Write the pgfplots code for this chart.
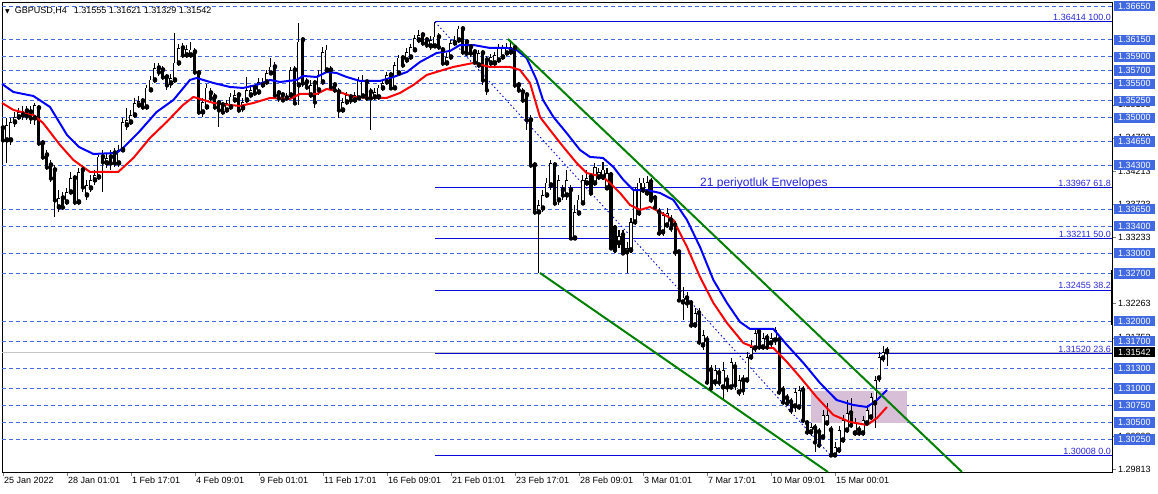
\documentclass[border=0pt]{standalone}
\usepackage{pgfplots}
\pgfplotsset{compat=1.18}
\usepackage{pgfplotstable}
\usepackage{fontspec}
\setmainfont{Liberation Sans}
\newfontfamily\dejavu{DejaVu Sans}

\definecolor{royal}{RGB}{65,105,225}
\definecolor{fibblue}{RGB}{10,10,215}
\definecolor{fibtext}{RGB}{40,40,220}
\definecolor{mtgreen}{RGB}{0,128,0}
\definecolor{boxpink}{RGB}{216,191,216}

% GBPUSD H4 candles: bar index, open, high, low, close
\pgfplotstableread{
i o h l c
0 1.34849 1.34967 1.34524 1.34672
1 1.34672 1.34996 1.34332 1.34893
2 1.34672 1.34996 1.34598 1.34937
3 1.34937 1.35085 1.34864 1.35011
4 1.35011 1.35144 1.34967 1.35085
5 1.35041 1.35174 1.34967 1.35100
6 1.35100 1.35174 1.34967 1.35026
7 1.35085 1.35174 1.34908 1.34996
8 1.34996 1.35218 1.34893 1.35188
9 1.35144 1.35188 1.34583 1.34627
10 1.34627 1.34672 1.34376 1.34421
11 1.34450 1.34524 1.34229 1.34273
12 1.34302 1.34376 1.34051 1.34110
13 1.34229 1.34302 1.33534 1.33786
14 1.33682 1.33933 1.33608 1.33815
15 1.33815 1.33904 1.33638 1.33682
16 1.33756 1.33963 1.33712 1.33904
17 1.33904 1.34199 1.33859 1.34110
18 1.34110 1.34155 1.33712 1.33756
19 1.33756 1.34258 1.33712 1.34199
20 1.34229 1.34302 1.33904 1.33978
21 1.33859 1.34081 1.33786 1.34007
22 1.33963 1.34155 1.33904 1.34081
23 1.34081 1.34229 1.34007 1.34155
24 1.34125 1.34450 1.34081 1.34421
25 1.34421 1.34524 1.33904 1.34347
26 1.34332 1.34480 1.34258 1.34406
27 1.34421 1.34524 1.34229 1.34332
28 1.34480 1.34554 1.34273 1.34332
29 1.34332 1.34598 1.34273 1.34524
30 1.34524 1.34996 1.34494 1.34937
31 1.34893 1.35144 1.34819 1.34967
32 1.34937 1.35115 1.34893 1.35041
33 1.35041 1.35292 1.34996 1.35218
34 1.35188 1.35321 1.35144 1.35247
35 1.35247 1.35292 1.35115 1.35159
36 1.35159 1.35484 1.35115 1.35440
37 1.35410 1.35617 1.35380 1.35558
38 1.35558 1.35809 1.35513 1.35735
39 1.35735 1.35809 1.35617 1.35676
40 1.35705 1.35764 1.35558 1.35602
41 1.35602 1.35646 1.35410 1.35484
42 1.35513 1.35646 1.35440 1.35587
43 1.35558 1.36252 1.35513 1.35809
44 1.35809 1.36089 1.35764 1.36030
45 1.36030 1.36104 1.35883 1.35927
46 1.35927 1.36075 1.35883 1.36015
47 1.35927 1.36119 1.35883 1.36001
48 1.35971 1.36030 1.35631 1.35676
49 1.35661 1.35705 1.35041 1.35085
50 1.35085 1.35292 1.35011 1.35233
51 1.35159 1.35499 1.35115 1.35440
52 1.35366 1.35440 1.35218 1.35292
53 1.35307 1.35366 1.35115 1.35159
54 1.35218 1.35262 1.34864 1.35115
55 1.35188 1.35233 1.35041 1.35085
56 1.35115 1.35262 1.35070 1.35218
57 1.35159 1.35366 1.35115 1.35307
58 1.35262 1.35410 1.35218 1.35336
59 1.35336 1.35380 1.35070 1.35115
60 1.35144 1.35292 1.35085 1.35233
61 1.35262 1.35602 1.35218 1.35410
62 1.35336 1.35484 1.35292 1.35410
63 1.35440 1.35484 1.35321 1.35366
64 1.35380 1.35587 1.35336 1.35528
65 1.35484 1.35587 1.35440 1.35528
66 1.35528 1.35705 1.35484 1.35661
67 1.35661 1.35883 1.35631 1.35750
68 1.35750 1.35823 1.35307 1.35336
69 1.35366 1.35410 1.35233 1.35292
70 1.35336 1.35380 1.35233 1.35262
71 1.35292 1.35366 1.35247 1.35321
72 1.35336 1.35750 1.35292 1.35705
73 1.35705 1.35764 1.35188 1.35218
74 1.35484 1.36399 1.35188 1.36119
75 1.36148 1.36193 1.35454 1.35513
76 1.35528 1.35587 1.35410 1.35454
77 1.35336 1.35558 1.35292 1.35484
78 1.35513 1.35558 1.35144 1.35233
79 1.35410 1.35705 1.35336 1.35631
80 1.35528 1.36045 1.35484 1.35971
81 1.35705 1.36075 1.35661 1.36001
82 1.35705 1.35764 1.35410 1.35454
83 1.35484 1.35528 1.35366 1.35410
84 1.35380 1.35440 1.34996 1.35115
85 1.35115 1.35292 1.35070 1.35233
86 1.35233 1.35380 1.35188 1.35336
87 1.35307 1.35351 1.35203 1.35262
88 1.35262 1.35380 1.35218 1.35336
89 1.35292 1.35602 1.35262 1.35558
90 1.35321 1.35631 1.35292 1.35558
91 1.35528 1.35558 1.35247 1.35292
92 1.35380 1.35440 1.34819 1.35292
93 1.35307 1.35440 1.35262 1.35380
94 1.35307 1.35484 1.35262 1.35440
95 1.35440 1.35558 1.35395 1.35513
96 1.35528 1.35676 1.35484 1.35631
97 1.35631 1.35676 1.35410 1.35440
98 1.35440 1.35823 1.35410 1.35779
99 1.35661 1.35927 1.35631 1.35883
100 1.35883 1.35927 1.35735 1.35779
101 1.35853 1.36030 1.35809 1.35971
102 1.35897 1.36089 1.35853 1.36045
103 1.36001 1.36222 1.35971 1.36178
104 1.36148 1.36296 1.36104 1.36222
105 1.36222 1.36267 1.36060 1.36104
106 1.36148 1.36193 1.36030 1.36075
107 1.36060 1.36207 1.36001 1.36148
108 1.36060 1.36414 1.36030 1.36193
109 1.36193 1.36252 1.36001 1.36045
110 1.36001 1.36045 1.35764 1.35809
111 1.35809 1.35956 1.35764 1.35897
112 1.35897 1.36148 1.35853 1.36104
113 1.36104 1.36207 1.36060 1.36148
114 1.36148 1.36355 1.36104 1.36311
115 1.36311 1.36355 1.35927 1.35971
116 1.36119 1.36148 1.35912 1.35956
117 1.36045 1.36089 1.35897 1.35956
118 1.35971 1.36015 1.35779 1.35823
119 1.35779 1.36001 1.35735 1.35956
120 1.35956 1.36001 1.35484 1.35558
121 1.35853 1.35912 1.35336 1.35410
122 1.35809 1.35942 1.35750 1.35897
123 1.35809 1.35971 1.35764 1.35927
124 1.35853 1.36089 1.35809 1.36045
125 1.35897 1.36075 1.35853 1.36030
126 1.35956 1.36104 1.35912 1.36045
127 1.35971 1.36148 1.35927 1.36045
128 1.36030 1.36075 1.35440 1.35484
129 1.35484 1.35528 1.35366 1.35410
130 1.35380 1.35440 1.35218 1.35262
131 1.35336 1.35380 1.34819 1.34967
132 1.34967 1.35041 1.34258 1.34302
133 1.34302 1.34347 1.33564 1.33608
134 1.33608 1.33786 1.32708 1.33712
135 1.33667 1.33933 1.33608 1.33859
136 1.33859 1.34110 1.33815 1.34037
137 1.34007 1.34376 1.33933 1.34332
138 1.34302 1.34347 1.33697 1.33741
139 1.33786 1.34155 1.33712 1.34081
140 1.33933 1.34007 1.33786 1.33859
141 1.33859 1.34229 1.33786 1.34081
142 1.33933 1.34007 1.33195 1.33224
143 1.33224 1.33712 1.33195 1.33608
144 1.33593 1.33859 1.33549 1.33786
145 1.33741 1.34155 1.33712 1.34081
146 1.34037 1.34229 1.33992 1.34110
147 1.34125 1.34184 1.33845 1.33889
148 1.34037 1.34332 1.33992 1.34273
149 1.34125 1.34258 1.34081 1.34199
150 1.34125 1.34347 1.34081 1.34229
151 1.33963 1.34258 1.33933 1.34184
152 1.34155 1.34199 1.33047 1.33077
153 1.33372 1.33416 1.33003 1.33047
154 1.33151 1.33343 1.33077 1.33254
155 1.33269 1.33343 1.32974 1.33003
156 1.33018 1.33165 1.32708 1.33077
157 1.33047 1.33520 1.33003 1.33461
158 1.33461 1.33978 1.33416 1.33933
159 1.33593 1.34110 1.33549 1.34037
160 1.33933 1.34110 1.33889 1.34037
161 1.33889 1.34140 1.33845 1.34051
162 1.34051 1.34110 1.33741 1.33786
163 1.33815 1.33859 1.33638 1.33682
164 1.33608 1.33667 1.33254 1.33298
165 1.33313 1.33608 1.33254 1.33564
166 1.33416 1.33667 1.33372 1.33593
167 1.33490 1.33564 1.33313 1.33372
168 1.33416 1.33476 1.32959 1.33018
169 1.33018 1.33047 1.32279 1.32309
170 1.32279 1.32501 1.32014 1.32339
171 1.32339 1.32427 1.32191 1.32265
172 1.32265 1.32309 1.31896 1.31940
173 1.31940 1.32191 1.31896 1.32117
174 1.32117 1.32191 1.31644 1.31689
175 1.31644 1.31866 1.31571 1.31792
176 1.31718 1.31777 1.31054 1.31098
177 1.31275 1.31349 1.30965 1.31009
178 1.31098 1.31349 1.31039 1.31275
179 1.31231 1.31305 1.31039 1.31098
180 1.31024 1.31393 1.30832 1.31275
181 1.31128 1.31202 1.30950 1.31024
182 1.31024 1.31452 1.30980 1.31393
183 1.31320 1.31393 1.30980 1.31054
184 1.30950 1.31202 1.30891 1.31128
185 1.31128 1.31202 1.30906 1.30980
186 1.31128 1.31541 1.31083 1.31467
187 1.31467 1.31718 1.31423 1.31615
188 1.31600 1.31866 1.31541 1.31822
189 1.31837 1.31866 1.31571 1.31615
190 1.31615 1.31822 1.31571 1.31748
191 1.31748 1.31807 1.31571 1.31615
192 1.31674 1.31822 1.31615 1.31748
193 1.31718 1.31910 1.31644 1.31866
194 1.31718 1.31777 1.30906 1.30950
195 1.30980 1.31039 1.30758 1.30803
196 1.30862 1.30921 1.30743 1.30788
197 1.30803 1.30862 1.30626 1.30685
198 1.30743 1.31009 1.30655 1.30950
199 1.30729 1.31039 1.30685 1.30980
200 1.30980 1.31039 1.30493 1.30537
201 1.30493 1.30537 1.30316 1.30360
202 1.30360 1.30493 1.30301 1.30434
203 1.30419 1.30478 1.30064 1.30212
204 1.30360 1.30419 1.30123 1.30168
205 1.30286 1.30685 1.30242 1.30611
206 1.30493 1.30788 1.30448 1.30611
207 1.30389 1.30448 1.30008 1.30020
208 1.30020 1.30212 1.30010 1.30138
209 1.30094 1.30448 1.30049 1.30389
210 1.30242 1.30611 1.30197 1.30537
211 1.30389 1.30832 1.30345 1.30640
212 1.30640 1.30862 1.30419 1.30463
213 1.30345 1.30567 1.30301 1.30507
214 1.30389 1.30448 1.30301 1.30345
215 1.30345 1.30596 1.30301 1.30537
216 1.30493 1.30758 1.30448 1.30685
217 1.30581 1.30936 1.30537 1.30876
218 1.30788 1.31187 1.30419 1.31128
219 1.31157 1.31541 1.31098 1.31467
220 1.31452 1.31630 1.31393 1.31541
221 1.31555 1.31621 1.31329 1.31542
}\candles

\begin{document}
\begin{tikzpicture}
\useasboundingbox (0,0) rectangle (1158pt,493pt);
\begin{axis}[
    at={(2pt,21pt)}, anchor=south west,
    scale only axis, width=1110pt, height=470pt,
    xmin=-0.25, xmax=277.25,
    ymin=1.29769, ymax=1.36709,
    clip=false,
    axis line style={black, line width=0.8pt},
    tick align=outside,
    major tick length=4pt,
    xtick={0,16,...,208},
    xticklabels={25 Jan 2022, 28 Jan 01:01, 1 Feb 17:01, 4 Feb 09:01, 9 Feb 01:01,
        11 Feb 17:01, 16 Feb 09:01, 21 Feb 01:01, 23 Feb 17:01, 28 Feb 09:01,
        3 Mar 01:01, 7 Mar 17:01, 10 Mar 09:01, 15 Mar 00:01},
    xtick pos=bottom,
    xticklabel style={anchor=north west, inner sep=0pt, xshift=1pt, yshift=-1pt,
        font=\fontsize{9}{10}\selectfont},
    % price scale labels (partly hidden behind the level boxes, as in the terminal)
    ytick={1.29813,1.30293,1.31753,1.32263,1.33233,1.33723,1.34213,1.34703,1.35193},
    ytick pos=right, yticklabel pos=right,
    scaled y ticks=false,
    yticklabel style={/pgf/number format/fixed, /pgf/number format/fixed zerofill,
        /pgf/number format/precision=5, /pgf/number format/assume math mode=true,
        font=\fontsize{9}{10}\selectfont, text=black,
        anchor=west, inner xsep=4pt, inner ysep=2pt, xshift=-2pt},
    % horizontal level lines with their boxes
    extra y ticks={1.30250,1.30500,1.30750,1.31000,1.31300,1.31700,1.32000,1.32700,
        1.33000,1.33400,1.33650,1.34300,1.34650,1.35000,1.35250,1.35500,1.35700,
        1.35900,1.36150,1.36650},
    extra y tick style={grid=major, tick style={draw=none},
        yticklabel style={fill=royal, text=white}},
    major grid style={royal, dash pattern=on 4pt off 3pt, line width=0.8pt},
]
% zone box
\addplot[fill=boxpink, draw=none, forget plot]
    coordinates {(202,1.30493) (226,1.30493) (226,1.30965) (202,1.30965)} -- cycle;
% current price line
\addplot[gray!45, line width=0.8pt, forget plot]
    coordinates {(-0.25,1.31542) (277.25,1.31542)};
% fibonacci levels
\addplot[fibblue, line width=1pt] coordinates {(108,1.36414) (277.25,1.36414)};
\addplot[fibblue, line width=1pt] coordinates {(108,1.33967) (277.25,1.33967)};
\addplot[fibblue, line width=1pt] coordinates {(108,1.33211) (277.25,1.33211)};
\addplot[fibblue, line width=1pt] coordinates {(108,1.32455) (277.25,1.32455)};
\addplot[fibblue, line width=1pt] coordinates {(108,1.31520) (277.25,1.31520)};
\addplot[fibblue, line width=1pt] coordinates {(108,1.30008) (277.25,1.30008)};
\addplot[fibblue, line width=0.9pt, dash pattern=on 1.5pt off 2.5pt]
    coordinates {(108,1.36414) (207,1.30008)};

% wicks
\addplot[only marks, mark=none, forget plot,
    error bars/.cd, y dir=both, y explicit, error mark=none,
    error bar style={black, solid, line width=1pt}]
    table[x=i, y=o, y error plus expr=\thisrow{h}-\thisrow{o},
          y error minus expr=\thisrow{o}-\thisrow{l}] {\candles};
% bodies
\addplot[only marks, mark=none, forget plot,
    error bars/.cd, y dir=plus, y explicit, error mark=none,
    error bar style={black, solid, line width=3pt}]
    table[x=i, y expr={min(\thisrow{o},\thisrow{c})-0.00006},
          y error expr={abs(\thisrow{c}-\thisrow{o})+0.00012}] {\candles};
% hollow bull bodies
\addplot[only marks, mark=none, forget plot,
    error bars/.cd, y dir=plus, y explicit, error mark=none,
    error bar style={white, solid, line width=1.1pt}]
    table[x=i, y expr={\thisrow{o}+0.00008},
          y error expr={max(\thisrow{c}-\thisrow{o}-0.00016,0)}] {\candles};

% envelope bands
\addplot[blue, line width=2pt, line join=round] coordinates {
(-0.25,1.35499) (2.6,1.35380) (7.6,1.35321) (11.75,1.35159) (16,1.34745)
(19,1.34568) (22.6,1.34465) (28.4,1.34480) (30,1.34554) (34,1.34790)
(38.4,1.35085) (42.6,1.35262) (46.75,1.35558) (48.4,1.35587) (52.6,1.35513)
(56.75,1.35454) (60,1.35440) (63.4,1.35484) (66.75,1.35558) (69.25,1.35528)
(73.4,1.35558) (75,1.35617) (78.4,1.35602) (80.9,1.35676) (83.4,1.35661)
(85.9,1.35602) (89.25,1.35543) (94.25,1.35543) (97.6,1.35602) (101,1.35676)
(104.25,1.35823) (108.4,1.35956) (111.75,1.35986) (114.25,1.36074) (117.6,1.36074)
(121.75,1.36030) (126,1.36030) (128.4,1.36001) (130.9,1.35883) (133.4,1.35558)
(135,1.35262) (137.6,1.35011) (140.9,1.34775) (144.25,1.34524) (146.75,1.34421)
(150,1.34406) (152.6,1.34273) (155.1,1.34081) (157.6,1.33933) (160.9,1.33933)
(164.25,1.33889) (167.6,1.33786) (171,1.33490) (174.25,1.33092) (177.6,1.32604)
(181,1.32265) (184.25,1.31984) (186.75,1.31881) (192.6,1.31881) (196,1.31644)
(200.1,1.31379) (204.25,1.31083) (208.4,1.30832) (212.6,1.30758) (216,1.30729)
(218.5,1.30832) (221,1.30980)};
\addplot[red, line width=2pt, line join=round] coordinates {
(-0.25,1.35218) (2.6,1.35115) (7.6,1.35041) (10,1.34923) (14.25,1.34598)
(17.6,1.34376) (21.75,1.34199) (28.8,1.34199) (32.6,1.34406) (36.75,1.34701)
(40.9,1.34937) (45,1.35188) (47.6,1.35307) (52.6,1.35218) (56.75,1.35188)
(59.25,1.35174) (62.6,1.35218) (66.75,1.35292) (71.75,1.35277) (74.25,1.35351)
(78.4,1.35351) (80.9,1.35425) (83.4,1.35395) (87.6,1.35307) (91.75,1.35292)
(95.9,1.35292) (99.25,1.35366) (102.6,1.35484) (105.9,1.35631) (110,1.35705)
(112.6,1.35750) (117.6,1.35809) (121.75,1.35750) (126.75,1.35750) (129.25,1.35705)
(131.75,1.35513) (134.25,1.35011) (136.75,1.34819) (140.1,1.34568) (143.4,1.34332)
(145.9,1.34184) (150,1.34125) (151.75,1.34037) (154.25,1.33889) (156.75,1.33712)
(159.25,1.33638) (161.75,1.33682) (164.25,1.33608) (167.6,1.33490) (171,1.33092)
(174.25,1.32649) (177.6,1.32265) (181,1.31969) (185.1,1.31674) (187.6,1.31615)
(192.6,1.31600) (196,1.31393) (199.25,1.31172) (203.4,1.30876) (207.6,1.30611)
(211.75,1.30507) (216,1.30463) (218.5,1.30567) (221,1.30729)};

% channel lines
\addplot[mtgreen, line width=2pt] coordinates {(126.25,1.36163) (239.75,1.29769)};
\addplot[mtgreen, line width=2pt] coordinates {(134.25,1.32708) (206.25,1.29769)};

% labels
\node[anchor=north west, inner sep=0pt, font=\fontsize{9}{10}\selectfont]
    at (axis description cs:0,1) [xshift=3pt, yshift=-5pt]
    {{\dejavu\fontsize{6}{6}\selectfont ▼}\hspace{5pt}GBPUSD,H4\hspace{7pt}1.31555 1.31621 1.31329 1.31542};
\node[anchor=west, text=fibtext, font=\fontsize{12}{13}\selectfont, inner sep=0pt]
    at (axis cs:174.25,1.34037) {21 periyotluk Envelopes};
\foreach \lev/\txt in {1.36414/1.36414 100.0, 1.33967/1.33967 61.8, 1.33211/1.33211 50.0,
    1.32455/1.32455 38.2, 1.31520/1.31520 23.6, 1.30008/1.30008 0.0}{
  \edef\temp{\noexpand\node[anchor=south east, text=fibtext, inner sep=1pt,
      font=\noexpand\fontsize{9}{10}\noexpand\selectfont]
      at (axis cs:277.25,\lev) {\txt};}
  \temp
}
\node[anchor=west, fill=black, text=white, inner xsep=4pt, inner ysep=2pt,
    font=\fontsize{9}{10}\selectfont] at (axis cs:277.25,1.31542) [xshift=2pt] {1.31542};
\draw[black, line width=2.5pt] (axis cs:277.25,1.32752) -- (axis cs:277.25,1.31940);
\end{axis}
\end{tikzpicture}
\end{document}
